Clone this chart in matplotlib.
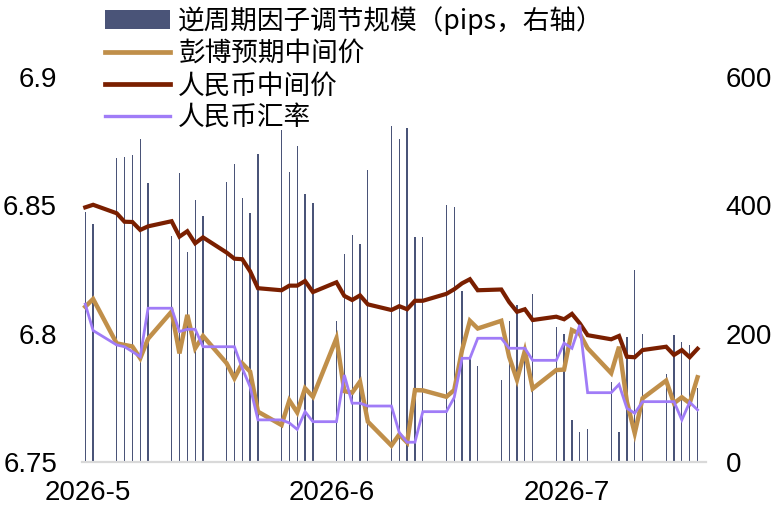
import numpy as np
import pandas as pd
import matplotlib
matplotlib.use('Agg')
import matplotlib.pyplot as plt
import matplotlib.transforms as mtransforms
from matplotlib.patches import Patch
from matplotlib.lines import Line2D

plt.rcParams['font.family'] = ['Liberation Sans Narrow', 'Liberation Sans', 'Noto Sans CJK SC', 'DejaVu Sans']

# trading days, 2026-04-30 .. 2026-07-17
dates = pd.bdate_range('2026-04-30', '2026-07-17')

# 逆周期因子调节规模 (pips)
ccf_pips = [390, 371,
            474, 476, 478, 503, 435,
            352, 451, 327, 409, 384,
            437, 465, 411, 388, 480,
            517, 452, 493, 418, 403,
            219, 324, 354, 339, 455,
            523, 503, 520, 351, 351,
            400, 398, 266, 160, 150,
            127, 219, 245, 160, 262,
            210, 200, 65, 46, 51,
            125, 47, 194, 299, 200,
            137, 198, 187, 183, 115]

# 彭博预期中间价
bbg_fix = [6.8105, 6.8135,
           6.7962, 6.7956, 6.7950, 6.7904, 6.7980,
           6.8086, 6.7923, 6.8073, 6.7943, 6.7991,
           6.7885, 6.7826, 6.7884, 6.7852, 6.7696,
           6.7644, 6.7740, 6.7693, 6.7787, 6.7754,
           6.7982, 6.7776, 6.7770, 6.7813, 6.7657,
           6.7564, 6.7607, 6.7576, 6.7780, 6.7779,
           6.7754, 6.7780, 6.7936, 6.8050, 6.8020,
           6.8050, 6.7910, 6.7820, 6.7933, 6.7786,
           6.7858, 6.7860, 6.8014, 6.7999, 6.7943,
           6.7846, 6.7949, 6.7735, 6.7612, 6.7748,
           6.7817, 6.7729, 6.7752, 6.7729, 6.7830]

# 人民币中间价
cny_fix = [6.8492, 6.8502,
           6.8469, 6.8436, 6.8435, 6.8404, 6.8418,
           6.8438, 6.8378, 6.8399, 6.8352, 6.8375,
           6.8316, 6.8292, 6.8290, 6.8243, 6.8177,
           6.8169, 6.8187, 6.8187, 6.8205, 6.8162,
           6.8200, 6.8147, 6.8131, 6.8149, 6.8114,
           6.8092, 6.8107, 6.8095, 6.8128, 6.8128,
           6.8155, 6.8173, 6.8196, 6.8212, 6.8169,
           6.8172, 6.8123, 6.8085, 6.8095, 6.8053,
           6.8066, 6.8056, 6.8077, 6.8040, 6.7994,
           6.7978, 6.7991, 6.7910, 6.7908, 6.7936,
           6.7949, 6.7917, 6.7936, 6.7908, 6.7941]

# 人民币汇率
cny_spot = [6.8115, 6.8012,
            6.7956, 6.7949, 6.7930, 6.7910, 6.8099,
            6.8099, 6.8008, 6.8017, 6.8017, 6.7949,
            6.7949, 6.7949, 6.7865, 6.7793, 6.7664,
            6.7664, 6.7652, 6.7627, 6.7696, 6.7657,
            6.7657, 6.7839, 6.7729, 6.7729, 6.7718,
            6.7718, 6.7615, 6.7577, 6.7577, 6.7696,
            6.7696, 6.7751, 6.7904, 6.7904, 6.7982,
            6.7982, 6.7943, 6.7943, 6.7943, 6.7896,
            6.7896, 6.7963, 6.7943, 6.8034, 6.7770,
            6.7770, 6.7802, 6.7709, 6.7690, 6.7735,
            6.7735, 6.7735, 6.7664, 6.7733, 6.7703]

month_ticks = pd.to_datetime(['2026-05-01', '2026-06-01', '2026-07-01'])
month_labels = ['2026-5', '2026-6', '2026-7']

c_bar = '#4a5478'
c_bbg = '#c08f4a'
c_fix = '#7a1f00'
c_spot = '#a07cf7'

fig = plt.figure(figsize=(7.78, 5.08), dpi=100)
ax = fig.add_axes([0.1054, 0.0906, 0.8021, 0.7579])
ax2 = ax.twinx()

# bars on the right scale, lines on top with the left scale
ax.bar(dates, ccf_pips, width=0.16, color=c_bar, linewidth=0)
ax.set_ylim(0, 600)
ax.set_yticks([0, 200, 400, 600])
ax.yaxis.tick_right()
ax2.yaxis.tick_left()

ax2.plot(dates, bbg_fix, color=c_bbg, lw=3.2, solid_joinstyle='miter')
ax2.plot(dates, cny_fix, color=c_fix, lw=3.0, solid_joinstyle='miter')
ax2.plot(dates, cny_spot, color=c_spot, lw=2.0, solid_joinstyle='miter')
ax2.set_ylim(6.75, 6.9)
ax2.set_yticks([6.75, 6.8, 6.85, 6.9])
ax2.set_yticklabels(['6.75', '6.8', '6.85', '6.9'])

ax.set_xlim(dates[0] - pd.Timedelta(hours=10), dates[-1] + pd.Timedelta(hours=26))
ax.set_xticks(month_ticks)
ax.set_xticklabels(month_labels)

for a in (ax, ax2):
    for s in a.spines.values():
        s.set_visible(False)
ax.spines['bottom'].set_visible(True)
ax.spines['bottom'].set_color('#d9d9d9')
ax.spines['bottom'].set_linewidth(1.6)

ax.tick_params(axis='x', length=0, pad=13, labelsize=20)
ax.tick_params(axis='y', length=0, pad=14, labelsize=20)
ax2.tick_params(axis='y', length=0, pad=18, labelsize=20)

offset = mtransforms.ScaledTranslation(-5 / 100, 0, fig.dpi_scale_trans)
for lab in ax.get_xticklabels():
    lab.set_transform(lab.get_transform() + offset)

handles = [Patch(facecolor=c_bar, edgecolor='none'),
           Line2D([], [], color=c_bbg, lw=3.4),
           Line2D([], [], color=c_fix, lw=3.4),
           Line2D([], [], color=c_spot, lw=2.4)]
labels = ['逆周期因子调节规模（pips，右轴）', '彭博预期中间价', '人民币中间价', '人民币汇率']
fig.legend(handles, labels, loc='upper left', bbox_to_anchor=(105 / 778, 1 - 6 / 508),
           frameon=False, borderpad=0, borderaxespad=0, handlelength=2.45,
           handletextpad=0.3, labelspacing=0.2,
           prop={'family': ['Noto Sans CJK SC', 'DejaVu Sans'], 'size': 19.2})

fig.savefig('out.png', dpi=100)
